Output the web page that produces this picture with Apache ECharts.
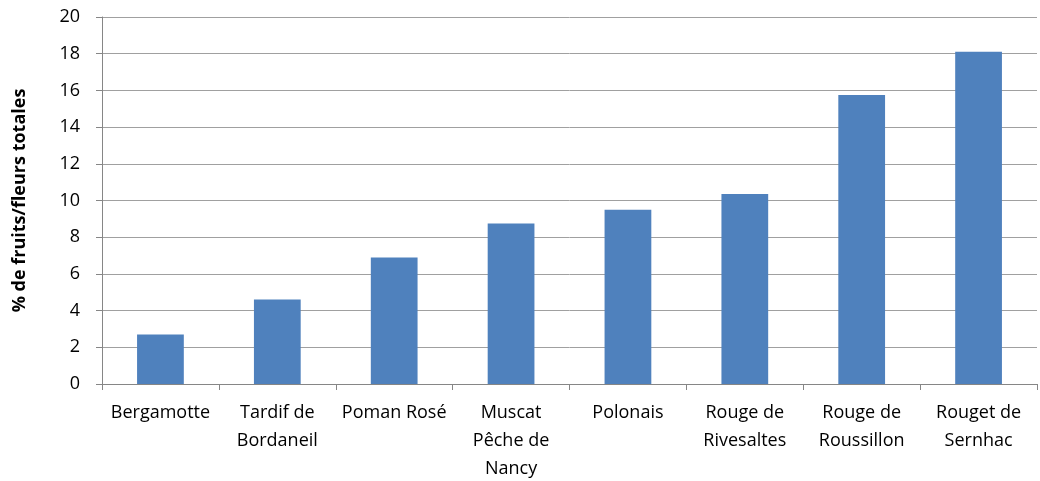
<!DOCTYPE html>
<html><head><meta charset="utf-8">
<script src="https://cdn.jsdelivr.net/npm/echarts@6/dist/echarts.min.js"></script>
<style>html,body{margin:0;padding:0;background:#fff;overflow:hidden}#c{width:1040px;height:481px}</style>
</head><body><div id="c"></div>
<script>
const categories = ["Bergamotte","Tardif de\nBordaneil","Poman Rosé","Muscat\nPêche de\nNancy","Polonais","Rouge de\nRivesaltes","Rouge de\nRoussillon","Rouget de\nSernhac"];
const values = [2.7, 4.6, 6.9, 8.75, 9.5, 10.35, 15.75, 18.1];
const yTicks = {min: 0, max: 20, interval: 2};
const yTitle = "% de fruits/fleurs totales";
const font = "'Open Sans', 'Liberation Sans', sans-serif";
const chart = echarts.init(document.getElementById('c'), null, {renderer: 'canvas'});
chart.setOption({
  animation: false,
  backgroundColor: '#fff',
  grid: {left: 102, right: 3, top: 17, bottom: 97, containLabel: false, outerBoundsMode: 'none'},
  xAxis: {
    type: 'category', data: categories,
    axisLine: {lineStyle: {color: '#868686', width: 1}},
    axisTick: {show: true, length: 6, alignWithLabel: false, lineStyle: {color: '#868686'}},
    axisLabel: {color: '#000', fontSize: 18, fontFamily: font, margin: 15, lineHeight: 28, interval: 0}
  },
  yAxis: {
    type: 'value', min: yTicks.min, max: yTicks.max, interval: yTicks.interval,
    name: yTitle, nameLocation: 'middle', nameGap: 73,
    nameTextStyle: {color: '#000', fontSize: 18, fontWeight: 'bold', fontFamily: font},
    axisLine: {show: true, lineStyle: {color: '#868686'}},
    axisTick: {show: true, length: 6, lineStyle: {color: '#868686'}},
    axisLabel: {color: '#000', fontSize: 18, fontFamily: font, margin: 22},
    splitLine: {lineStyle: {color: '#a0a0a0', width: 1}}
  },
  series: [{
    type: 'bar', data: values, barWidth: '40%',
    itemStyle: {color: '#4f81bd'}
  }]
});
</script></body></html>
